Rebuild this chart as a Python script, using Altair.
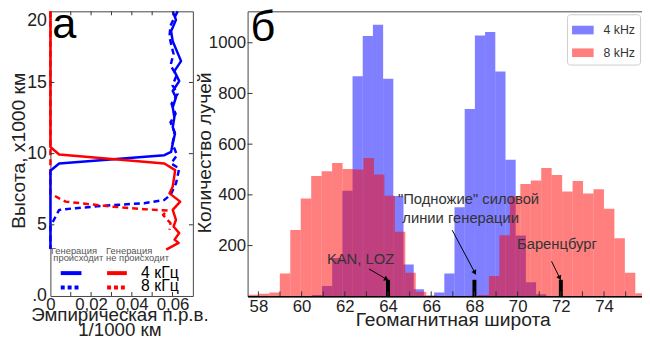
import altair as alt
import numpy as np
import pandas as pd

FONT = "Liberation Sans"
TXT = "#222222"

# ---------------- panel а: empirical p.d.f. of height ----------------
# 4 kHz, generation occurs (blue solid)
b4_density = [0.0601, 0.0617, 0.0593, 0.0601, 0.0642, 0.0609, 0.0633, 0.0601, 0.0617, 0.0601,
              0.0609, 0.0601, 0.0612, 0.0601, 0.0593, 0.0560, 0.0043, 0.0, 0.0]
b4_height = [20.0, 19.4, 18.6, 17.9, 16.5, 15.8, 15.1, 14.4, 13.95, 13.26,
             12.56, 11.86, 11.4, 10.7, 10.12, 9.89, 9.31, 8.8, 3.3]
# 8 kHz, generation occurs (blue dotted)
b8_density = [0.0625, 0.0590, 0.0585, 0.0605, 0.0590, 0.0620, 0.0600, 0.0625, 0.0595, 0.0615,
              0.0590, 0.0610, 0.0600, 0.0622, 0.0593, 0.0633, 0.0617, 0.0590, 0.0560, 0.0460,
              0.0300, 0.0124, 0.0043, 0.0, 0.0]
b8_height = [20.0, 19.0, 18.2, 17.0, 16.2, 15.5, 14.8, 14.2, 13.5, 12.8,
             12.2, 11.5, 10.7, 9.89, 9.31, 8.96, 7.91, 7.1, 6.75, 6.52,
             6.38, 6.17, 6.05, 4.88, 3.3]
# 4 kHz, no generation (red solid)
r4_density = [0.0, 0.0, 0.0043, 0.0560, 0.0613, 0.0601, 0.0585, 0.0638, 0.0601, 0.0617,
              0.0605, 0.0633, 0.0610, 0.0630, 0.0569]
r4_height = [20.0, 10.47, 9.94, 9.31, 8.84, 7.68, 7.21, 6.63, 6.05, 5.35,
             4.88, 4.42, 3.96, 3.73, 3.26]
# 8 kHz, no generation (red dotted)
r8_density = [0.0, 0.0, 0.0043, 0.0075, 0.0300, 0.0460, 0.0577, 0.0553, 0.0590, 0.0585]
r8_height = [20.0, 7.21, 6.86, 6.63, 6.28, 6.10, 6.00, 5.70, 5.12, 4.65]

left_xticks = [0, 0.02, 0.04, 0.06]
left_minor_x = [0.01, 0.02, 0.03, 0.04, 0.05, 0.06]
left_yticks = [0, 5, 10, 15, 20]
left_minor_y = [5, 10, 15]

# ---------------- panel б: histograms of ray counts ----------------
blue_start, blue_width = 60.47, 0.472
blue_counts = [5, 41, 151, 416, 868, 1027, 1071, 858, 396, 125, 28, 2,
               15, 90, 351, 739, 1029, 1042, 887, 539, 240, 55, 8]
red_start, red_width = 57.54, 0.484
red_counts = [6, 10, 15, 90, 261, 386, 474, 493, 526, 502,
              500, 545, 480, 397, 255, 93, 18, 3, 0, 0,
              0, 2, 5, 80, 241, 395, 443, 457, 506, 478,
              413, 455, 405, 422, 345, 229, 93, 12]
freq_labels = ["4 kHz", "8 kHz"]

station_lat = [64, 68, 72]
station_mark = [65, 65, 65]

ann_text = ["KAN, LOZ", "\"Подножие\" силовой", "линии генерации", "Баренцбург"]
ann_lat = [61.17, 64.46, 64.66, 69.97]
ann_cnt = [148, 385, 307, 206]

arrow_lat1 = [63.12, 66.97, 71.57]
arrow_cnt1 = [108, 261, 138]
arrow_lat2 = [63.93, 68.02, 71.95]
arrow_cnt2 = [67, 93, 72]
arrow_angle = [121, 152, 155]

right_xticks = list(range(58, 75, 2))
right_minor_x = list(range(58, 76))
right_yticks = [200, 400, 600, 800, 1000]

# ================= panel а =================
LW, LH = 144.5, 288.7
xs_l = alt.Scale(domain=[0, 0.07], nice=False, zero=False)
ys_l = alt.Scale(domain=[0, 20], nice=False, zero=False)

ax_xl = alt.Axis(values=left_xticks,
                 labelExpr="datum.value == 0 ? '0' : replace(format(datum.value, '.2f'), '.', ',')",
                 labelFontSize=17, labelColor=TXT, labelPadding=1, ticks=False, domain=False, grid=False,
                 labelFlush=False, labelOverlap=False,
                 title=["Эмпирическая п.р.в.", "1/1000 км"], titleFontSize=19, titleFontWeight="normal",
                 titleColor=TXT, titleX=70, titleY=25.3, titleBaseline="alphabetic", titleLineHeight=15)
ax_yl = alt.Axis(values=left_yticks,
                 labelExpr="datum.value == 0 ? '.0' : datum.label",
                 labelBaseline={"condition": {"test": "datum.value == 20", "value": "top"}, "value": "middle"},
                 labelFontSize=18, labelColor=TXT, labelPadding=4, ticks=False, domain=False, grid=False,
                 title="Высота, x1000 км", titleFontSize=19.5, titleFontWeight="normal", titleColor=TXT,
                 titleX=-22, titleY=141, titleBaseline="bottom")


def curve(dens, h, color, dash=None, width=2.5):
    df = pd.DataFrame({"d": dens, "h": h, "i": list(range(len(h)))})
    mk = dict(color=color, strokeWidth=width, strokeJoin="round")
    if dash:
        mk["strokeDash"] = dash
    return alt.Chart(df).mark_line(**mk).encode(
        x=alt.X("d:Q", scale=xs_l, axis=ax_xl),
        y=alt.Y("h:Q", scale=ys_l, axis=ax_yl),
        order="i:Q",
    )


l_b8 = curve(b8_density, b8_height, "#0000ff", dash=[6, 4])
l_r8 = curve(r8_density, r8_height, "#ff0000", dash=[6, 4])
l_b4 = curve(b4_density, b4_height, "#0000ff")
l_r4 = curve(r4_density, r4_height, "#ff0000")

tx_df = pd.DataFrame({"v": left_minor_x})
ty_df = pd.DataFrame({"v": left_minor_y})
tick_l = [
    alt.Chart(tx_df).mark_rule(color="#333", strokeWidth=1).encode(
        x=alt.X("v:Q", scale=xs_l, axis=ax_xl), y=alt.value(0), y2=alt.value(4)),
    alt.Chart(tx_df).mark_rule(color="#333", strokeWidth=1).encode(
        x=alt.X("v:Q", scale=xs_l, axis=ax_xl), y=alt.value(LH), y2=alt.value(LH - 4)),
    alt.Chart(ty_df).mark_rule(color="#333", strokeWidth=1).encode(
        y=alt.Y("v:Q", scale=ys_l, axis=ax_yl), x=alt.value(0), x2=alt.value(4)),
    alt.Chart(ty_df).mark_rule(color="#333", strokeWidth=1).encode(
        y=alt.Y("v:Q", scale=ys_l, axis=ax_yl), x=alt.value(LW), x2=alt.value(LW - 4)),
]

# legend of panel а (drawn in pixels inside the plot)
hdr = pd.DataFrame({"t": ["Генерация", "происходит", "Генерация", "не происходит"],
                    "px": [0.5, 3, 56.5, 56.5], "py": [243, 250.5, 243, 250.5]})
leg_hdr = alt.Chart(hdr).mark_text(align="left", baseline="middle", fontSize=9.5, color="#555", font=FONT).encode(
    x=alt.X("px:Q", scale=None), y=alt.Y("py:Q", scale=None), text="t:N")
leg_lab = alt.Chart(pd.DataFrame({"t": ["4 кГц", "8 кГц"], "px": [92, 92], "py": [265, 279]})).mark_text(
    align="left", baseline="middle", fontSize=16, color="black", font=FONT).encode(
    x=alt.X("px:Q", scale=None), y=alt.Y("py:Q", scale=None), text="t:N")
leg_lines = []
for (x1, x2, yy, col, dash) in [(10.5, 31.5, 265.5, "#0000ff", None), (57.5, 77.5, 265.5, "#ff0000", None),
                                (10.5, 31.5, 280, "#0000ff", [4, 3]), (57.5, 77.5, 280, "#ff0000", [4, 3])]:
    mk = dict(color=col, strokeWidth=4)
    if dash:
        mk["strokeDash"] = dash
    leg_lines.append(alt.Chart(pd.DataFrame({"a": [0]})).mark_rule(**mk).encode(
        x=alt.value(x1), x2=alt.value(x2), y=alt.value(yy)))

lab_a = alt.Chart(pd.DataFrame({"t": ["а"]})).mark_text(
    align="left", baseline="alphabetic", fontSize=44, color="black", font=FONT).encode(
    x=alt.value(2), y=alt.value(27), text="t:N")

left = alt.layer(l_b8, l_r8, l_b4, l_r4, *tick_l, leg_hdr, leg_lab, *leg_lines, lab_a).properties(
    width=LW, height=LH)

# ================= panel б =================
RW, RH = 400.5, 289
xs_r = alt.Scale(domain=[57.5, 75.78], nice=False, zero=False)
ys_r = alt.Scale(domain=[0, 1124], nice=False)

ax_xr = alt.Axis(values=right_xticks, format="d", labelFontSize=17, labelColor=TXT, labelPadding=2,
                 ticks=False, domain=True, domainColor="black", domainWidth=1.5, grid=False,
                 labelFlush=False, labelOverlap=False,
                 title="Геомагнитная широта", titleFontSize=19.5, titleFontWeight="normal", titleColor=TXT,
                 titleX=208, titleY=15, titleBaseline="top")
ax_yr = alt.Axis(values=right_yticks, format="d", labelFontSize=17, labelColor=TXT, labelPadding=2,
                 ticks=False, domain=False, grid=False,
                 title="Количество лучей", titleFontSize=19.5, titleFontWeight="normal", titleColor=TXT,
                 titleX=-34, titleY=143, titleBaseline="bottom")


def hist_df(start, width, counts, label):
    lo = start + width * np.arange(len(counts))
    return pd.DataFrame({"lo": lo, "hi": lo + width, "n": counts, "z": 0, "f": label})


hist = pd.concat([hist_df(blue_start, blue_width, blue_counts, freq_labels[0]),
                  hist_df(red_start, red_width, red_counts, freq_labels[1])], ignore_index=True)

bars = alt.Chart(hist).mark_rect(opacity=0.5, clip=True, strokeWidth=0).encode(
    x=alt.X("lo:Q", scale=xs_r, axis=ax_xr), x2="hi:Q",
    y=alt.Y("n:Q", scale=ys_r, axis=ax_yr), y2="z:Q",
    color=alt.Color("f:N", scale=alt.Scale(domain=freq_labels, range=["#0000ff", "#ff0000"]),
                    legend=alt.Legend(title=None, orient="top-right", offset=3,
                                      symbolType="M-1,-0.4L1,-0.4L1,0.4L-1,0.4Z", symbolSize=480,
                                      symbolOpacity=0.5, symbolStrokeWidth=0, labelFontSize=12.5,
                                      labelColor="#333", labelFont=FONT, labelOffset=10, rowPadding=5,
                                      padding=5, strokeColor="#ccc", fillColor="white", cornerRadius=3)),
)

st = pd.DataFrame({"lat": station_lat, "z": 0, "h": station_mark})
markers = alt.Chart(st).mark_rule(color="black", strokeWidth=4).encode(
    x=alt.X("lat:Q", scale=xs_r, axis=ax_xr), y=alt.Y("z:Q", scale=ys_r, axis=ax_yr), y2="h:Q")

arr = pd.DataFrame({"x1": arrow_lat1, "y1": arrow_cnt1, "x2": arrow_lat2, "y2": arrow_cnt2, "a": arrow_angle})
arrow_lines = alt.Chart(arr).mark_rule(color="black", strokeWidth=1).encode(
    x=alt.X("x1:Q", scale=xs_r, axis=ax_xr), y=alt.Y("y1:Q", scale=ys_r, axis=ax_yr), x2="x2:Q", y2="y2:Q")
arrow_heads = alt.Chart(arr).mark_point(shape="triangle-up", filled=True, color="black", size=30, opacity=1).encode(
    x=alt.X("x2:Q", scale=xs_r, axis=ax_xr), y=alt.Y("y2:Q", scale=ys_r, axis=ax_yr),
    angle=alt.Angle("a:Q", scale=None))

ann = pd.DataFrame({"t": ann_text, "x": ann_lat, "y": ann_cnt})
ann_marks = alt.Chart(ann).mark_text(align="left", baseline="middle", fontSize=15, color="#333", font=FONT).encode(
    x=alt.X("x:Q", scale=xs_r, axis=ax_xr), y=alt.Y("y:Q", scale=ys_r, axis=ax_yr), text="t:N")

rt_x = pd.DataFrame({"v": right_minor_x})
rt_y = pd.DataFrame({"v": right_yticks})
tick_r = [
    alt.Chart(rt_x).mark_rule(color="#333", strokeWidth=1, clip=True).encode(
        x=alt.X("v:Q", scale=xs_r, axis=ax_xr), y=alt.value(RH), y2=alt.value(RH - 5)),
    alt.Chart(rt_y).mark_rule(color="#333", strokeWidth=1).encode(
        y=alt.Y("v:Q", scale=ys_r, axis=ax_yr), x=alt.value(0), x2=alt.value(5)),
]

lab_b = alt.Chart(pd.DataFrame({"t": ["б"]})).mark_text(
    align="left", baseline="alphabetic", fontSize=44, color="black", font=FONT).encode(
    x=alt.value(3), y=alt.value(30), text="t:N")

right = alt.layer(bars, markers, arrow_lines, arrow_heads, ann_marks, *tick_r, lab_b).properties(
    width=RW, height=RH)

chart = alt.hconcat(left, right, spacing=55, bounds="flush").resolve_legend(color="independent").properties(
    padding={"left": 0, "top": -8, "right": -1, "bottom": -1}
).configure(font=FONT).configure_view(stroke="#444", strokeWidth=1).configure_axis(
    labelFont=FONT, titleFont=FONT)

chart.save("out.html", embed_options={"renderer": "svg", "actions": False})
